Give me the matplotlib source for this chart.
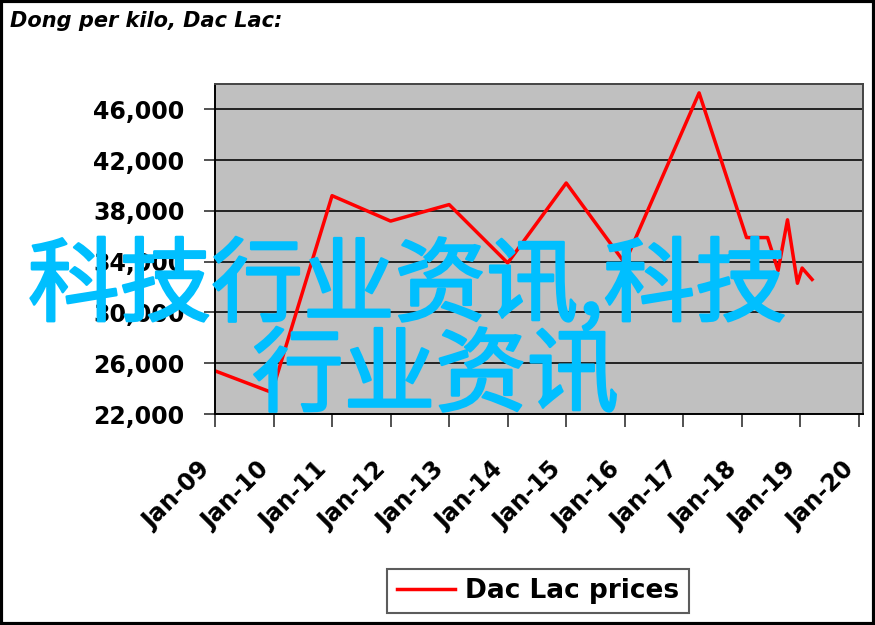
import matplotlib.pyplot as plt
import matplotlib.transforms as mtransforms
import matplotlib.patheffects as pe
from matplotlib.patches import Rectangle
from matplotlib.ticker import FuncFormatter

# Dac Lac coffee price, dong per kilo
years = [2009.0, 2009.97, 2011.0, 2012.0, 2013.0, 2014.0, 2015.0, 2016.0,
         2017.27, 2018.08, 2018.44, 2018.62, 2018.78, 2018.95, 2019.03, 2019.2]
prices = [25400, 23700, 39200, 37200, 38500, 33900, 40200, 33900,
          47300, 35900, 35900, 33300, 37300, 32300, 33500, 32600]

tick_years = list(range(2009, 2021))
tick_labels = ['Jan-%02d' % (y % 100) for y in tick_years]
y_ticks = list(range(22000, 46001, 4000))

fig = plt.figure(figsize=(8.75, 6.25), dpi=100)
ax = fig.add_axes([215 / 875, 1 - 414 / 625, 648 / 875, 330 / 625])
ax.set_facecolor('#c0c0c0')

line, = ax.plot(years, prices, color='red', lw=2.5, label='Dac Lac prices')

ax.set_xlim(2009, 2020.07)
ax.set_ylim(22000, 48000)
ax.set_yticks(y_ticks)
ax.yaxis.set_major_formatter(FuncFormatter(lambda v, p: f'{int(v):,}'))
ax.set_xticks(tick_years)
ax.set_xticklabels(tick_labels, rotation=45, ha='right', fontsize=17,
                   fontweight='bold')
shift = mtransforms.ScaledTranslation(-10 / 100, 0, fig.dpi_scale_trans)
for t in ax.get_xticklabels():
    t.set_transform(t.get_transform() + shift)
for t in ax.get_yticklabels():
    t.set_fontsize(17)
    t.set_fontweight('bold')
ax.tick_params(axis='x', direction='out', length=9, width=1.2, pad=22,
               color='#333333')
ax.tick_params(axis='y', direction='out', length=8, width=1.2, pad=14,
               color='#333333')
ax.grid(axis='y', color='#222222', lw=1.4)
ax.set_axisbelow(True)
for s in ax.spines.values():
    s.set_color('#444444')
    s.set_linewidth(1.4)
ax.spines['left'].set_color('black')
ax.spines['bottom'].set_color('black')

fig.text(10 / 875, 1 - 27 / 625, 'Dong per kilo, Dac Lac:', fontsize=15,
         fontweight='bold', fontstyle='italic', va='baseline', ha='left')

leg = fig.legend(handles=[line], loc='center',
                 bbox_to_anchor=(538 / 875, 1 - 591 / 625),
                 prop={'size': 19, 'weight': 'bold'}, frameon=True,
                 fancybox=False, handlelength=2.2, borderpad=0.35,
                 handletextpad=0.4)
leg.get_frame().set_edgecolor('#333333')
leg.get_frame().set_linewidth(1.5)

# watermark overlay (regular weight, slightly thickened)
cjk = ['Noto Sans CJK SC', 'DejaVu Sans']
thick = [pe.withStroke(linewidth=1.8, foreground='#00bfff')]
fig.text(28 / 875, 1 - 314 / 625, '科技行业资讯,科技', fontsize=66,
         color='#00bfff', family=cjk, ha='left', va='baseline',
         path_effects=thick)
fig.text(252 / 875, 1 - 404 / 625, '行业资讯', fontsize=66,
         color='#00bfff', family=cjk, ha='left', va='baseline',
         path_effects=thick)

fig.patches.append(Rectangle((0.001, 0.001), 0.998, 0.997,
                             transform=fig.transFigure, fill=False,
                             edgecolor='black', lw=3))

fig.savefig('out.png', dpi=100)
